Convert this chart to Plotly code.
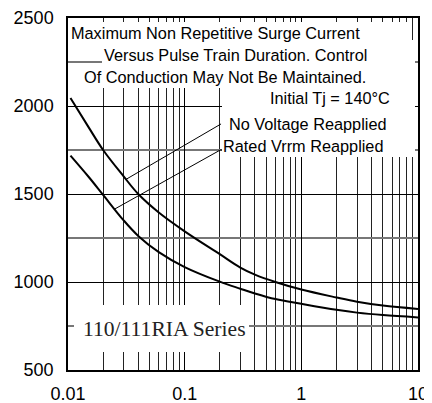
import plotly.graph_objects as go

# ---- data ----
pulse_no_v = [0.0105, 0.015, 0.02, 0.03, 0.04, 0.06, 0.1, 0.2, 0.3, 0.4, 0.6, 1, 2, 3, 5, 10]
surge_no_v = [2045, 1880, 1750, 1600, 1500, 1395, 1288, 1158, 1082, 1042, 1000, 957, 912, 888, 866, 847]

pulse_rated = [0.0105, 0.015, 0.02, 0.03, 0.04, 0.06, 0.1, 0.2, 0.3, 0.4, 0.6, 1, 2, 3, 5, 10]
surge_rated = [1718, 1598, 1495, 1350, 1262, 1170, 1085, 1002, 962, 935, 903, 876, 842, 826, 812, 799]

leader_no_v_x = [0.0314, 0.205]
leader_no_v_y = [1583, 1898]
leader_rated_x = [0.0249, 0.202, 0.212]
leader_rated_y = [1413, 1750, 1750]

x_tickvals = [0.01, 0.1, 1, 10]
x_ticktext = ["0.01", "0.1", "1", "10"]
x_minor = [m * 10.0 ** e for e in (-2, -1, 0) for m in range(2, 10)]
y_tickvals = [500, 1000, 1500, 2000, 2500]
y_minor = [750, 1250, 1750, 2250]

# ---- layout geometry (page pixels; the page body adds an 8px offset) ----
OFF = 8
W, H = 432 - OFF, 403 - OFF
L, R, T, B = 68, 418, 18, 370


def dx(px):
    return (px - L) / (R - L)


def dy(py):
    return (B - py) / (B - T)


fig = go.Figure()
curve = dict(color="black", width=2)
fig.add_trace(go.Scatter(x=pulse_no_v, y=surge_no_v, mode="lines",
                         line=dict(shape="spline", smoothing=1.0, **curve)))
fig.add_trace(go.Scatter(x=pulse_rated, y=surge_rated, mode="lines",
                         line=dict(shape="spline", smoothing=1.0, **curve)))
fig.add_trace(go.Scatter(x=leader_no_v_x, y=leader_no_v_y, mode="lines",
                         line=dict(color="black", width=1)))
fig.add_trace(go.Scatter(x=leader_rated_x, y=leader_rated_y, mode="lines",
                         line=dict(color="black", width=1)))

annotations = []
# white boxes behind the texts (cover the grid like the original)
masks = [
    (70, 22, 411, 58),
    (102, 22, 411, 88),
    (70, 66, 411, 88),
    (221.5, 40, 414.5, 157),
    (74, 305, 249, 352),
]
for x0, y0, x1, y1 in masks:
    annotations.append(dict(text=" ", xref="x domain", yref="y domain",
                            x=dx(x0), y=dy(y0), xanchor="left", yanchor="top",
                            width=x1 - x0, height=y1 - y0, bgcolor="white",
                            borderpad=0, borderwidth=0, showarrow=False,
                            font=dict(size=1)))

sans = dict(family="Liberation Sans, Arial, sans-serif", size=16.3, color="black")
texts = [
    ("Maximum Non Repetitive Surge Current", 69, 33, "left"),
    ("Versus Pulse Train Duration. Control", 102, 55, "left"),
    ("Of Conduction May Not Be Maintained.", 82, 77, "left"),
    ("Initial Tj = 140°C", 392, 98, "right"),
    ("No Voltage Reapplied", 227, 124, "left"),
    ("Rated Vrrm Reapplied", 221, 146, "left"),
]
for t, x, y, anc in texts:
    annotations.append(dict(text=t, xref="x domain", yref="y domain",
                            x=dx(x), y=dy(y), xanchor=anc, yanchor="middle",
                            showarrow=False, font=sans))
annotations.append(dict(text="110/111RIA Series", xref="x domain", yref="y domain",
                        x=dx(81), y=dy(329), xanchor="left", yanchor="middle",
                        showarrow=False,
                        font=dict(family="Liberation Serif, Times New Roman, serif",
                                  size=21.6, color="#222")))

tickfont = dict(family="Liberation Sans, Arial, sans-serif", size=18, color="black")
fig.update_layout(
    width=W, height=H,
    margin=dict(l=L - OFF, r=(W + OFF) - R, t=T - OFF, b=(H + OFF) - B, pad=0),
    paper_bgcolor="white", plot_bgcolor="white",
    showlegend=False,
    annotations=annotations,
    xaxis=dict(type="log", range=[-2, 1], tickvals=x_tickvals, ticktext=x_ticktext,
               automargin=False,
               showgrid=True, gridcolor="black", gridwidth=1,
               minor=dict(tickvals=x_minor, showgrid=True, gridcolor="#222", gridwidth=1),
               showline=True, linecolor="black", linewidth=1.5, mirror=True,
               ticks="", ticklabelstandoff=7, tickfont=tickfont, zeroline=False),
    yaxis=dict(range=[500, 2500], tickvals=y_tickvals,
               automargin=False,
               showgrid=True, gridcolor="black", gridwidth=1,
               minor=dict(tickvals=y_minor, showgrid=True, gridcolor="#777", gridwidth=1.5),
               showline=True, linecolor="black", linewidth=1.5, mirror=True,
               ticks="", ticklabelstandoff=9, tickfont=tickfont, zeroline=False),
)

fig.write_html("out.html")
